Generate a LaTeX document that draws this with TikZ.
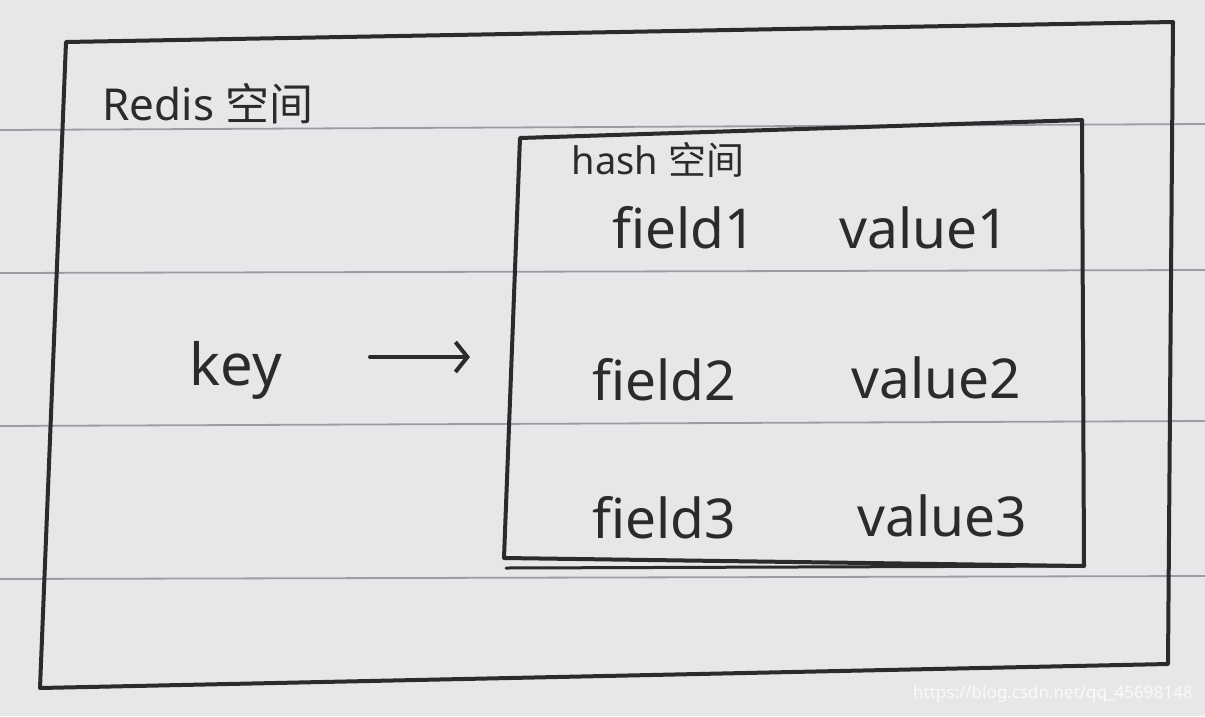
\documentclass[tikz,border=0pt]{standalone}
\usepackage{fontspec}
\setmainfont{Noto Sans}
\newfontfamily\cjk{Noto Sans CJK SC}
\usetikzlibrary{arrows.meta}
\definecolor{paper}{HTML}{E7E7EA}
\definecolor{rule}{HTML}{9C9CA2}
\definecolor{ink}{HTML}{2B2B2D}
\tikzset{
  ink/.style={draw=ink, line width=4pt, line join=round, line cap=round},
  ruleline/.style={draw=rule, line width=1.8pt},
  hand/.style={text=ink, inner sep=0pt, anchor=center},
  entry/.style={hand, font=\fontsize{55}{60}\selectfont},
}
\begin{document}
\begin{tikzpicture}[x=1pt,y=-1pt]
\fill[paper] (0,0) rectangle (1205,716);
\useasboundingbox (0,0) rectangle (1205,716);
% ruled lines
\draw[ruleline] (0,130) -- (1205,124);
\draw[ruleline] (0,273) -- (1205,270);
\draw[ruleline] (0,426) -- (1205,421);
\draw[ruleline] (0,579) -- (1205,576);
% outer box (Redis space)
\coordinate (o1) at (66,42);
\coordinate (o2) at (1173,22);
\coordinate (o3) at (1168,664);
\coordinate (o4) at (40,688);
\draw[ink] (o1) -- (o2) -- (o3) -- (o4) -- cycle;
% inner box (hash space)
\coordinate (i1) at (520,138);
\coordinate (i2) at (1082,120);
\coordinate (i3) at (1084,566);
\coordinate (i4) at (504,558);
\draw[ink] (i1) -- (i2) -- (i3) -- (i4) -- cycle;
\draw[ink, line width=3pt] (506,568) -- (1084,566);
\node[hand, font=\fontsize{44}{50}\selectfont] (redis) at (208,104) {Redis {\cjk 空间}};
\node[hand, font=\fontsize{38}{42}\selectfont] (hash) at (658,160) {hash {\cjk 空间}};
\node[hand, font=\fontsize{58}{64}\selectfont] (key) at (236,370) {key};
\coordinate (a1) at (370,357);
\coordinate (a2) at (470,357);
\draw[ink, -{Straight Barb[length=12pt,width=30pt,line width=4pt]}] (a1) -- (a2);
\node[entry] (f1) at (684,228) {field1};
\node[entry] (v1) at (924,228) {value1};
\node[entry] (f2) at (664,380) {field2};
\node[entry] (v2) at (936,378) {value2};
\node[entry] (f3) at (664,518) {field3};
\node[entry] (v3) at (942,516) {value3};
\node[text=white, opacity=0.8, font=\fontsize{17}{20}\selectfont, anchor=east] (wm) at (1196,694) {https://blog.csdn.net/qq\_45698148};
\end{tikzpicture}
\end{document}
